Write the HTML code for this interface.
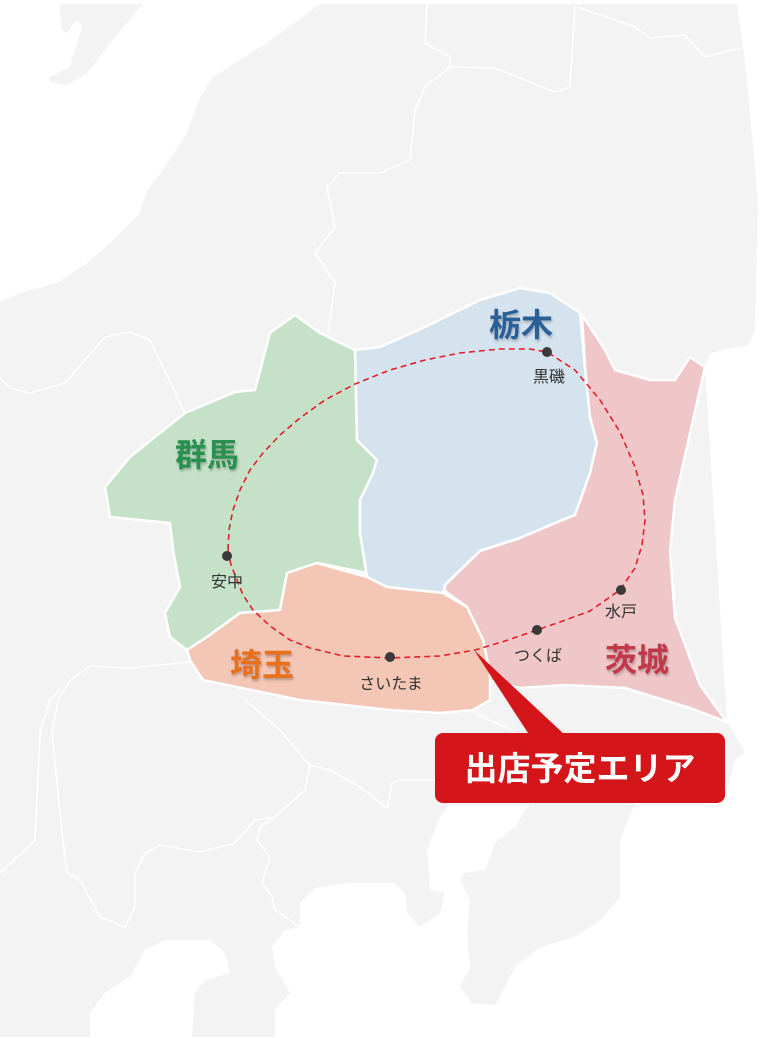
<!DOCTYPE html>
<html><head><meta charset="utf-8"><style>
html,body{margin:0;padding:0;background:#fff;}
svg{display:block;}
text{font-family:"Liberation Sans","Noto Sans CJK JP",sans-serif;}
</style></head><body>
<svg width="784" height="1038" viewBox="0 0 784 1038" xmlns="http://www.w3.org/2000/svg">
<defs>
<filter id="sh" x="-20%" y="-20%" width="140%" height="140%"><feDropShadow dx="1" dy="2" stdDeviation="1.2" flood-color="#000" flood-opacity="0.25"/></filter>
</defs>
<!-- land -->
<g fill="#f3f3f3" stroke="none">
<polygon points="60,4 143,4 110,43 87,73 67,85 50,82 50,77 70,67 75,50 82,27 77,20 67,33 62,30 60,13"/>
<polygon points="320,4 737,4 745,60 758,200 755,330 748,345 710,353 705,367 727,722 745,752 735,760 725,800 635,803 620,840 620,897 600,920 575,937 540,947 515,967 495,1005 472,1003 460,987 470,967 467,933 470,900 460,880 465,873 485,870 495,843 515,827 530,803 450,803 440,817 427,850 430,890 445,893 440,913 420,927 407,913 405,893 395,883 350,883 315,888 300,903 300,927 285,930 272,947 275,967 290,993 275,1010 275,1037 192,1037 195,993 205,980 230,973 225,953 210,940 165,940 145,950 130,977 105,993 90,1013 90,1037 0,1037 0,302 20,293 57,283 87,263 113,240 140,213 147,190 163,170 187,133 200,97 213,77 267,43"/>
</g>
<!-- internal borders -->
<g fill="none" stroke="#fff" stroke-width="1.6" stroke-linejoin="round">
<polyline points="427,4 425,43 450,57 450,67 425,87 415,110 410,160 380,173 340,173 327,187 335,227 315,253 335,283 330,320 328,333"/>
<polyline points="450,67 495,68 555,92 570,87 575,7"/>
<polyline points="577,7 635,27 650,38 685,35 705,57 740,48"/>
<polyline points="0,378 10,388 30,393 65,383 105,337 130,332 150,340 185,413"/>
<polyline points="245,700 280,730 305,760 310,765 305,790 275,817 260,827 257,840 270,857 262,883 272,897 275,910 300,927"/>
<polyline points="310,765 330,770 360,787 387,808 392,783 400,780 435,780"/>
<polyline points="275,817 255,820 235,843 200,852 160,845 145,853 135,873 135,907 125,927 100,917 80,880 67,873 62,833 52,733 58,700 70,680 90,666 130,668 190,662"/>
<polyline points="0,873 35,840 40,733 50,700 60,690"/>
<polyline points="475,713 505,727 520,735"/>
</g>
<!-- prefectures -->
<g stroke="#fff" stroke-width="2.5" stroke-linejoin="round">
<polygon fill="#c5e2c9" points="295,315 320,333 355,350 357,440 377,460 373,473 360,500 360,533 367,573 317,563 287,573 280,610 240,613 207,637 187,650 170,637 165,613 180,587 173,550 170,523 110,517 105,487 130,457 185,413 235,392 255,390 270,333"/>
<polygon fill="#d5e3ef" points="355,350 380,347 425,327 480,300 520,288 550,293 580,313 585,367 590,417 597,443 590,473 575,515 560,521 520,538 480,551 445,585 443,593 387,587 367,577 360,533 360,500 373,473 377,460 357,440"/>
<polygon fill="#f0c7c8" points="582,315 605,350 615,370 650,380 675,380 690,357 705,367 675,500 670,551 675,618 700,685 727,722 690,708 625,688 565,685 520,688 490,681 490,673 483,640 467,607 445,591 445,585 480,551 520,538 560,521 575,515 590,473 597,443 590,417 585,367"/>
<polygon fill="#f4c6b5" points="187,650 207,637 240,613 280,610 287,573 317,563 367,577 387,587 443,593 467,607 483,640 490,673 490,700 473,710 440,713 390,710 300,700 203,680 190,660"/>
</g>
<!-- dashed route -->
<polyline fill="none" stroke="#e0202a" stroke-width="1.6" stroke-dasharray="6,4" stroke-linejoin="round" points="228,550 229,530 233,510 240,490 250,470 263,453 280,435 300,418 325,400 355,384 390,370 425,360 460,353 500,349 530,349 547,352 575,370 600,400 620,432 635,467 643,495 645,520 642,545 635,568 620,590 590,611 560,622 537,630 505,641 475,650 440,656 390,658 343,656 310,648 290,640 270,626 253,610 243,595 237,580 231,565 228,550"/>
<!-- callout -->
<polygon fill="#d4161b" points="474,650 530,736 566,736"/>
<rect x="435" y="733" width="290" height="70" rx="8" fill="#d4161b"/>
<text x="580" y="780" font-size="33" fill="#fff" text-anchor="middle" font-weight="bold">出店予定エリア</text>
<!-- dots -->
<g fill="#3a3a3a">
<circle cx="547" cy="352" r="5"/><circle cx="227" cy="556" r="5"/><circle cx="390" cy="657" r="5"/><circle cx="537" cy="630" r="5"/><circle cx="621" cy="590" r="5"/>
</g>
<g fill="#333" font-size="16" text-anchor="middle">
<text x="549" y="382">黒磯</text>
<text x="227" y="587">安中</text>
<text x="391" y="689">さいたま</text>
<text x="538" y="661">つくば</text>
<text x="621" y="617">水戸</text>
</g>
<g font-size="32" font-weight="bold" text-anchor="middle" filter="url(#sh)">
<text x="521" y="336" fill="#2a5e98">栃木</text>
<text x="207" y="466" fill="#2a9050">群馬</text>
<text x="262" y="676" fill="#e8701a">埼玉</text>
<text x="637" y="671" fill="#c0394a">茨城</text>
</g>
</svg>
</body></html>
